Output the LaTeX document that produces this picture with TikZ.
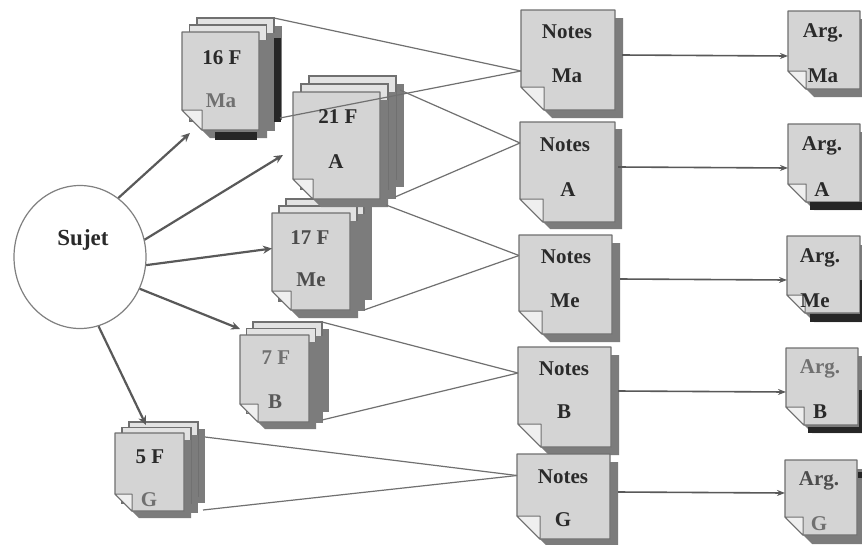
\documentclass[tikz,border=0pt]{standalone}
\usepackage{fontspec}
\setmainfont{Liberation Serif}
\usetikzlibrary{shapes.geometric,arrows.meta}
\definecolor{pagefill}{HTML}{D4D4D4}
\definecolor{backfill}{HTML}{E2E2E2}
\definecolor{flapfill}{HTML}{EFEFEF}
\definecolor{edgegray}{HTML}{707070}
\definecolor{shadowgray}{HTML}{7C7C7C}
\definecolor{inkdark}{HTML}{2A2A2A}
\definecolor{inkgray}{HTML}{707070}
\tikzset{
  x=1pt,y=-1pt,
  sheet/.style={fill=pagefill,draw=edgegray,line width=1.2pt,line join=round},
  backsheet/.style={fill=backfill,draw=edgegray,line width=1.2pt},
  flap/.style={fill=flapfill,draw=edgegray,line width=1pt,line join=round},
  shade/.style={fill=shadowgray},
  blackbar/.style={fill=black!85},
  frame/.style={inner sep=0pt,outer sep=0pt,anchor=north west},
  lab/.style={font=\fontsize{21}{21}\selectfont\bfseries,text=inkdark,inner sep=0pt},
  labgray/.style={lab,text=inkgray},
  fan/.style={draw=edgegray,line width=1.2pt},
  spoke/.style={draw=black!65,line width=2.2pt,-{Stealth[length=9pt,width=8pt]}},
  link/.style={draw=black!65,line width=1.6pt,-{Stealth[length=8pt,width=6pt]}},
}
% one sheet with folded corner: w h fold shadow
\newcommand{\SheetAt}[4]{%
  \fill[shade] (#1,#4) -- (#1+#4,#4) -- (#1+#4,#2+#4) -- (#3+#4,#2+#4) -- (#3,#2) -- cycle;
  \draw[sheet] (0,0) -- (#1,0) -- (#1,#2) -- (#3,#2) -- (0,#2-#3) -- cycle;
  \draw[flap] (0,#2-#3) -- (#3,#2-#3) -- (#3,#2) -- cycle;
}
% single document: name x y w h fold shadow
\newcommand{\SingleDoc}[7]{%
  \begin{scope}[shift={(#2,#3)}]\SheetAt{#4}{#5}{#6}{#7}\end{scope}
  \node[frame,minimum width=#4pt,minimum height=#5pt] (#1) at (#2,#3) {};
}
% stack: name x y w h fold shadow dx dy
\newcommand{\StackDoc}[9]{%
  \begin{scope}[shift={(#2+2*#8,#3-2*#9)}]
    \fill[shade] (#7,#7) rectangle (#4+#7,#5+#7-4);
    \draw[backsheet] (0,0) rectangle (#4,#5-4);
  \end{scope}
  \begin{scope}[shift={(#2+#8,#3-#9)}]
    \fill[shade] (#6,#7) rectangle (#4+#7,#5+#7);
    \draw[backsheet] (0,0) rectangle (#4,#5-2);
  \end{scope}
  \begin{scope}[shift={(#2,#3)}]\SheetAt{#4}{#5}{#6}{#7}\end{scope}
  \node[frame,minimum width=#4pt+2*#8pt,minimum height=#5pt+2*#9pt] (#1) at (#2,#3-2*#9) {};
}
\begin{document}
\begin{tikzpicture}
\useasboundingbox (0,0) rectangle (862,544);
\fill[white] (0,0) rectangle (862,544);

% stacks
\StackDoc{sMa}{182}{32}{77}{98}{20}{8}{7.5}{7}
\fill[blackbar] (274,38) rectangle (281,122);
\fill[blackbar] (215,132) rectangle (257,140);
\StackDoc{sMe}{272}{213}{78}{97}{19}{8}{7}{7}
\StackDoc{sA}{293}{92}{87}{107}{20}{8}{8}{8}
\StackDoc{sB}{240}{335}{69}{87}{18}{7}{6.5}{6.5}
\StackDoc{sG}{115}{433}{69}{78}{17}{7}{7}{5.5}

% notes
\SingleDoc{nMa}{521}{10}{94}{100}{23}{8}
\SingleDoc{nA}{520}{122}{95}{100}{23}{7}
\SingleDoc{nMe}{519}{235}{93}{99}{23}{8}
\SingleDoc{nB}{518}{347}{93}{100}{23}{8}
\SingleDoc{nG}{517}{454}{93}{85}{23}{8}

% arguments
\SingleDoc{aMa}{788}{11}{72}{78}{18}{8}
\SingleDoc{aA}{788}{124}{72}{78}{18}{8}
\SingleDoc{aMe}{787}{236}{73}{77}{18}{9}
\SingleDoc{aB}{786}{348}{72}{77}{18}{8}
\SingleDoc{aG}{785}{460}{72}{75}{18}{9}
\fill[blackbar] (810,202) rectangle (862,210);
\fill[blackbar] (810,314) rectangle (862,322);
\fill[blackbar] (860,280) rectangle (862,314);
\fill[blackbar] (808,427) rectangle (862,433);
\fill[blackbar] (859,390) rectangle (862,427);
\fill[blackbar] (858,472) rectangle (862,478);

% subject
\node[ellipse,draw=black!50,fill=white,line width=1.2pt,minimum width=132pt,minimum height=143pt,inner sep=0pt] (sujet) at (80,257) {};
\node[lab,font=\fontsize{23}{23}\selectfont\bfseries] (sujetlab) at (83,240) {Sujet};

% fan lines
\draw[fan] (sMa.north east) -- ([shift={(0,11)}]nMa.west);
\draw[fan] ([shift={(6,-12)}]sMa.south east) -- ([shift={(0,11)}]nMa.west);
\draw[fan] ([shift={(4,14)}]sA.north east) -- ([shift={(0,-29)}]nA.west);
\draw[fan] ([shift={(-1,-2)}]sA.south east) -- ([shift={(0,-29)}]nA.west);
\draw[fan] ([shift={(22,6)}]sMe.north east) -- ([shift={(0,-29)}]nMe.west);
\draw[fan] (sMe.south east) -- ([shift={(0,-29)}]nMe.west);
\draw[fan] (sB.north east) -- ([shift={(0,-24)}]nB.west);
\draw[fan] ([shift={(0,-2)}]sB.south east) -- ([shift={(0,-24)}]nB.west);
\draw[fan] ([shift={(7,15)}]sG.north east) -- ([shift={(0,-21)}]nG.west);
\draw[fan] ([shift={(5,-1)}]sG.south east) -- ([shift={(0,-21)}]nG.west);

% spokes
\draw[spoke] (sujet.57) -- ([shift={(8,3)}]sMa.south west);
\draw[spoke] (sujet.15) -- ([shift={(-10,-44)}]sA.south west);
\draw[spoke] (sujet.-7) -- ([shift={(0,-6)}]sMe.west);
\draw[spoke] (sujet.-28) -- ([shift={(0,7)}]sB.north west);
\draw[spoke] (sujet.-75) -- ([shift={(31,3)}]sG.north west);

% links
\draw[link] ([shift={(7,-5)}]nMa.east) -- ([shift={(0,6)}]aMa.west);
\draw[link] ([shift={(3,-5)}]nA.east) -- ([shift={(0,5)}]aA.west);
\draw[link] ([shift={(8,-5.5)}]nMe.east) -- ([shift={(0,5.5)}]aMe.west);
\draw[link] ([shift={(7,-6)}]nB.east) -- ([shift={(0,5.5)}]aB.west);
\draw[link] ([shift={(8,-4.5)}]nG.east) -- ([shift={(0,-4.5)}]aG.west);

% labels
\node[lab] at (222,58) {16 F};
\node[labgray] at (221,101) {Ma};
\node[lab] at (338,117) {21 F};
\node[lab] at (336,162) {A};
\node[lab,text=black!70] at (310,238) {17 F};
\node[lab,text=black!70] at (311,280) {Me};
\node[labgray] at (276,358) {7 F};
\node[lab,text=black!65] at (275,402) {B};
\node[lab] at (150,457) {5 F};
\node[labgray] at (149,500) {G};

\node[lab] at (567,32) {Notes};
\node[lab] at (567,76) {Ma};
\node[lab] at (565,145) {Notes};
\node[lab] at (568,190) {A};
\node[lab] at (566,257) {Notes};
\node[lab] at (565,301) {Me};
\node[lab] at (564,369) {Notes};
\node[lab] at (564,412) {B};
\node[lab] at (563,477) {Notes};
\node[lab] at (563,520) {G};

\node[lab] at (823,33) {Arg.};
\node[lab] at (823,76) {Ma};
\node[lab] at (822,146) {Arg.};
\node[lab] at (822,190) {A};
\node[lab] at (820,258) {Arg.};
\node[lab] at (815,301) {Me};
\node[labgray] at (820,369) {Arg.};
\node[lab] at (820,412) {B};
\node[lab,text=black!70] at (819,481) {Arg.};
\node[labgray] at (819,524) {G};
\end{tikzpicture}
\end{document}
